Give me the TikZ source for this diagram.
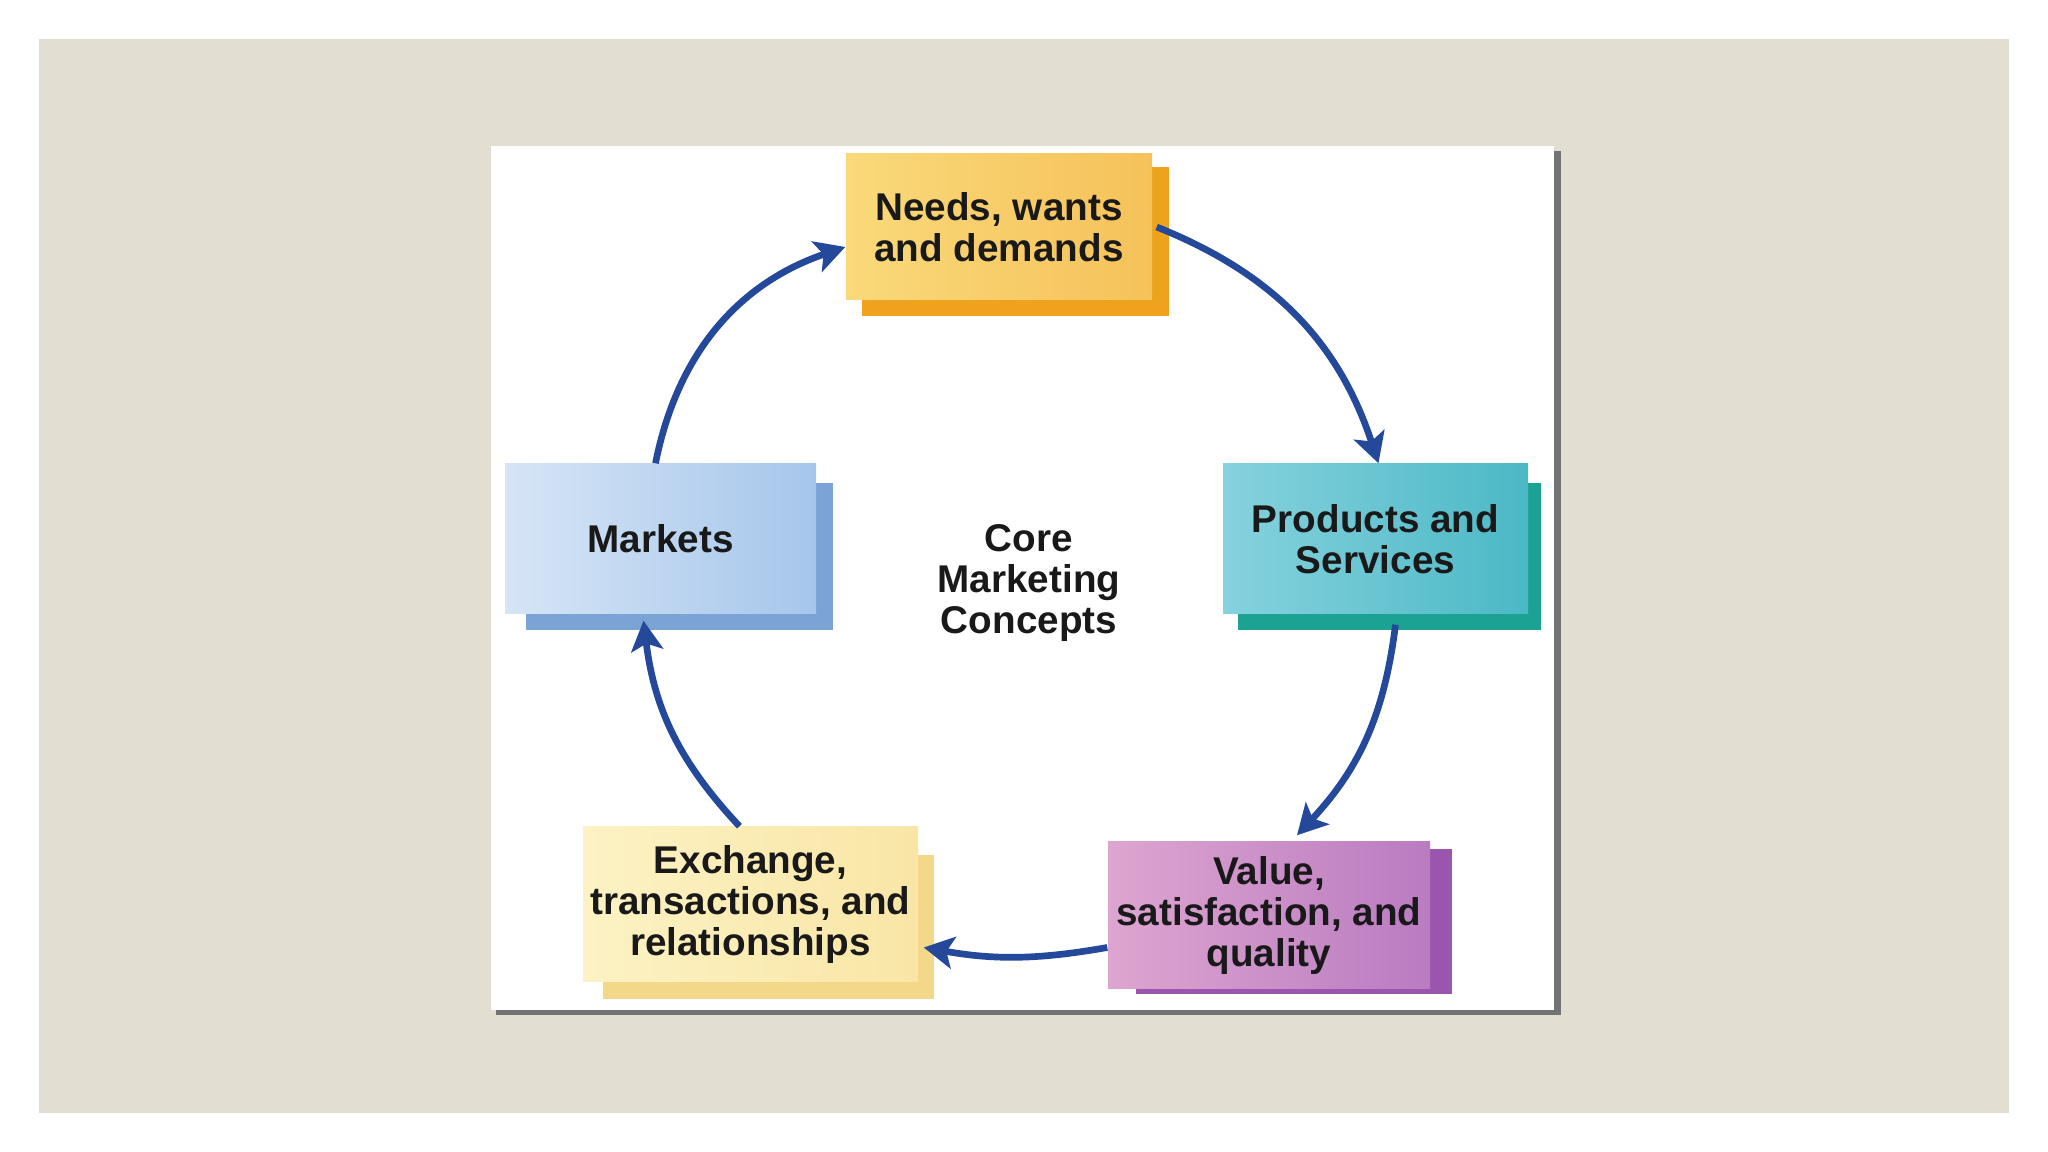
\documentclass[tikz,border=0pt]{standalone}
\usepackage{fontspec}
\setmainfont{Liberation Sans}
\usetikzlibrary{arrows.meta,positioning,calc}
\usepackage{xcolor}

%% colours of the slide and the cycle
\definecolor{slidebg}{HTML}{E2DED2}
\definecolor{cyclearrow}{HTML}{24499A}
\definecolor{needsA}{HTML}{FAD97A}
\definecolor{needsB}{HTML}{F5C25A}
\definecolor{needsS}{HTML}{EFA21E}
\definecolor{marketsA}{HTML}{D6E5F6}
\definecolor{marketsB}{HTML}{A6C6EB}
\definecolor{marketsS}{HTML}{7BA3D6}
\definecolor{productsA}{HTML}{86D2DE}
\definecolor{productsB}{HTML}{4CB8C5}
\definecolor{productsS}{HTML}{1BA293}
\definecolor{exchangeA}{HTML}{FCF2C4}
\definecolor{exchangeB}{HTML}{F9E6A6}
\definecolor{exchangeS}{HTML}{F4D88A}
\definecolor{valueA}{HTML}{DDA5D0}
\definecolor{valueB}{HTML}{BA7BC1}
\definecolor{valueS}{HTML}{9A56AE}

\begin{document}
\begin{tikzpicture}[
    font=\fontsize{11}{11.6}\selectfont\bfseries,
    >={Stealth[length=3mm,width=3.2mm,inset=0.7mm]},
    concept/.style={rectangle, inner sep=0pt, align=center, text=black!90},
    shadowbox/.style={rectangle, inner sep=0pt},
    cycle/.style={->, line width=1.9pt, cyclearrow}
  ]
  %% page, slide and white panel
  \useasboundingbox (0,0) rectangle (20.48,11.52);
  \fill[white] (0,0) rectangle (20.48,11.52);
  \fill[slidebg] (0.39,0.39) rectangle (20.09,11.13);
  \fill[black!55] (4.96,1.37) rectangle (15.61,10.01);
  \fill[white] (4.91,1.42) rectangle (15.54,10.06);

  %% back plates (offset copies of the boxes)
  \node[shadowbox, fill=needsS,    minimum width=3.07cm, minimum height=1.49cm] (needs-s)    at (10.155,9.105) {};
  \node[shadowbox, fill=marketsS,  minimum width=3.07cm, minimum height=1.47cm] (markets-s)  at (6.795,5.955) {};
  \node[shadowbox, fill=productsS, minimum width=3.03cm, minimum height=1.47cm] (products-s) at (13.895,5.955) {};
  \node[shadowbox, fill=exchangeS, minimum width=3.31cm, minimum height=1.44cm] (exchange-s) at (7.685,2.25) {};
  \node[shadowbox, fill=valueS,    minimum width=3.16cm, minimum height=1.45cm] (value-s)    at (12.94,2.305) {};

  %% front boxes
  \node[concept, left color=needsA, right color=needsB,
        minimum width=3.06cm, minimum height=1.46cm] (needs) at (9.99,9.25)
        {Needs, wants\\and demands};
  \node[concept, left color=marketsA, right color=marketsB,
        minimum width=3.11cm, minimum height=1.50cm] (markets) at (6.605,6.13)
        {Markets};
  \node[concept, left color=productsA, right color=productsB,
        minimum width=3.05cm, minimum height=1.50cm] (products) at (13.755,6.13)
        {Products and\\Services};
  \node[concept, left color=exchangeA, right color=exchangeB,
        minimum width=3.35cm, minimum height=1.55cm] (exchange) at (7.505,2.475)
        {Exchange,\\transactions, and\\relationships};
  \node[concept, left color=valueA, right color=valueB,
        minimum width=3.22cm, minimum height=1.47cm] (value) at (12.69,2.365)
        {Value,\\satisfaction, and\\quality};

  %% centre label
  \node[concept] (core) at (10.29,5.69) {Core\\Marketing\\Concepts};

  %% the cycle, clockwise
  \draw[cycle] ([xshift=-0.5mm]markets.north) to[bend left=30] ([yshift=-2mm]needs.west);
  \draw[cycle] ([xshift=0.4mm]needs.east) to[bend left=25] ([xshift=0.3mm]products.north);
  \draw[cycle] ([xshift=0.6mm,yshift=0.6mm]products-s.south) to[bend left=18] ([xshift=2.8mm,yshift=0.6mm]value.north);
  \draw[cycle] ([yshift=-3.2mm]value.west) to[bend left=10] ([xshift=0.5mm,yshift=-4.3mm]exchange.east);
  \draw[cycle] ([xshift=-1.1mm]exchange.north) to[bend left=18] ([xshift=-3.6mm,yshift=1mm]markets-s.south);
\end{tikzpicture}
\end{document}
